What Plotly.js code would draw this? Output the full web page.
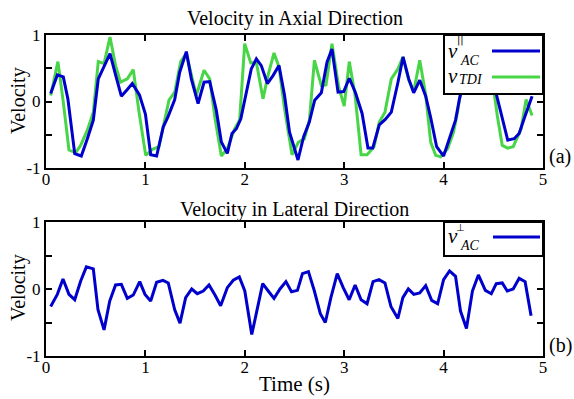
<!DOCTYPE html>
<html>
<head>
<meta charset="utf-8">
<script src="https://cdn.plot.ly/plotly-3.0.1.min.js"></script>
<style>html,body{margin:0;padding:0;background:#fff;}#chart{width:574px;height:399px;}</style>
</head>
<body>
<div id="chart"></div>
<script>
// ---- Data ----
const timeAxialAC = [0.047,0.114,0.174,0.22,0.289,0.355,0.416,0.476,0.526,0.584,0.644,0.70,0.758,0.818,0.868,0.94,1.0,1.053,1.113,1.18,1.227,1.295,1.345,1.412,1.462,1.53,1.59,1.647,1.713,1.764,1.824,1.871,1.915,1.96,2.015,2.065,2.116,2.166,2.227,2.284,2.344,2.40,2.45,2.535,2.592,2.649,2.703,2.77,2.827,2.877,2.938,2.995,3.051,3.112,3.18,3.239,3.287,3.353,3.413,3.474,3.541,3.592,3.649,3.699,3.76,3.82,3.87,3.93,4.0,4.06,4.12,4.16,4.22,4.28,4.34,4.40,4.48,4.534,4.60,4.645,4.71,4.76,4.81,4.89];
const vAxialAC = [0.12,0.40,0.37,0.04,-0.785,-0.82,-0.56,-0.28,0.34,0.52,0.72,0.40,0.08,0.18,0.27,0.10,-0.19,-0.80,-0.82,-0.38,-0.23,0.03,0.44,0.75,0.34,-0.03,0.29,0.30,-0.13,-0.61,-0.78,-0.48,-0.41,-0.26,0.14,0.49,0.64,0.54,0.27,0.39,0.54,0.09,-0.46,-0.88,-0.53,-0.31,0.02,0.13,0.59,0.79,0.14,0.15,0.35,0.14,-0.18,-0.70,-0.70,-0.35,-0.27,-0.16,0.29,0.67,0.34,0.13,0.32,0.08,-0.24,-0.68,-0.82,-0.56,-0.28,0.04,0.40,0.70,0.80,0.55,0.40,0.09,-0.31,-0.58,-0.56,-0.48,-0.26,0.08];

const timeAxialTDI = [0.047,0.12,0.174,0.231,0.299,0.349,0.416,0.476,0.526,0.584,0.644,0.70,0.75,0.818,0.878,0.936,1.003,1.07,1.137,1.187,1.237,1.295,1.355,1.412,1.512,1.59,1.647,1.70,1.764,1.824,1.898,1.948,1.999,2.06,2.116,2.183,2.233,2.294,2.344,2.40,2.475,2.54,2.60,2.65,2.70,2.77,2.817,2.877,2.945,3.0,3.051,3.11,3.17,3.23,3.30,3.353,3.41,3.474,3.541,3.59,3.65,3.70,3.76,3.82,3.87,3.92,3.97,4.04,4.10,4.14,4.20,4.26,4.32,4.38,4.44,4.51,4.54,4.59,4.645,4.70,4.78,4.83,4.89];
const vAxialTDI = [0.09,0.60,-0.01,-0.73,-0.77,-0.66,-0.43,-0.16,0.60,0.57,0.97,0.54,0.29,0.34,0.48,-0.16,-0.81,-0.72,-0.68,-0.31,0.02,0.14,0.60,0.72,0.09,0.47,0.34,-0.25,-0.82,-0.71,-0.41,-0.28,0.87,0.58,0.59,0.04,0.39,0.73,0.52,-0.11,-0.80,-0.61,-0.56,-0.28,0.62,0.24,0.25,0.87,0.22,-0.07,0.60,0.09,-0.80,-0.80,-0.68,-0.31,-0.16,0.34,0.49,0.67,0.32,0.15,0.62,0.10,-0.61,-0.81,-0.83,-0.71,-0.46,-0.16,0.45,0.75,0.62,0.80,0.45,0.12,-0.21,-0.66,-0.70,-0.68,-0.41,0.03,-0.21];

const timeLateral = [0.047,0.114,0.171,0.231,0.289,0.349,0.406,0.476,0.523,0.584,0.641,0.70,0.758,0.818,0.878,0.943,0.996,1.053,1.113,1.177,1.23,1.295,1.348,1.405,1.466,1.522,1.582,1.64,1.70,1.757,1.824,1.884,1.945,2.0,2.07,2.126,2.18,2.236,2.294,2.354,2.414,2.47,2.53,2.58,2.64,2.70,2.76,2.81,2.866,2.93,2.99,3.05,3.11,3.17,3.23,3.29,3.35,3.41,3.47,3.54,3.59,3.645,3.70,3.76,3.82,3.88,3.94,4.0,4.06,4.12,4.17,4.23,4.29,4.35,4.42,4.48,4.53,4.59,4.64,4.70,4.76,4.82,4.88];
const vLateralAC = [-0.26,-0.08,0.15,-0.08,-0.16,0.12,0.33,0.30,-0.31,-0.61,-0.18,0.06,0.07,-0.14,-0.09,0.11,-0.08,-0.18,0.10,0.13,0.09,-0.31,-0.51,-0.13,0.0,-0.07,-0.03,0.06,-0.09,-0.25,0.02,0.13,0.18,-0.03,-0.68,-0.28,0.08,-0.03,-0.14,0.0,0.11,-0.04,-0.02,0.23,0.26,-0.03,-0.37,-0.50,-0.13,0.23,0.02,-0.16,0.06,-0.16,-0.22,0.11,0.14,0.09,-0.26,-0.44,-0.13,0.0,-0.08,-0.06,0.05,-0.17,-0.22,0.14,0.27,0.19,-0.33,-0.59,-0.03,0.21,-0.02,-0.07,0.08,0.09,-0.03,0.0,0.16,0.11,-0.40];

const xTicks = [0,1,2,3,4,5];
const xTickText = ['0','1','2','3','4','5'];
const yTicks = [-1,0,1];
const yTickText = ['-1','0','1'];

// ---- Styling ----
const BLUE = 'rgb(0,0,205)';
const GREEN = 'rgb(72,214,72)';
const FONT = 'Liberation Serif, Times New Roman, serif';

// pixel -> paper helpers (plot area 46..543 x 35..356)
const PX = x => (x - 46) / 497;
const PY = y => (356 - y) / 321;

const traces = [
  {x: timeAxialTDI, y: vAxialTDI, type: 'scatter', mode: 'lines', name: 'v_TDI',
   line: {color: GREEN, width: 3}, xaxis: 'x', yaxis: 'y'},
  {x: timeAxialAC, y: vAxialAC, type: 'scatter', mode: 'lines', name: 'v_AC par',
   line: {color: BLUE, width: 3}, xaxis: 'x', yaxis: 'y'},
  {x: timeLateral, y: vLateralAC, type: 'scatter', mode: 'lines', name: 'v_AC perp',
   line: {color: BLUE, width: 3}, xaxis: 'x2', yaxis: 'y2'}
];

const xBase = {
  range: [0, 5], tickvals: xTicks, ticktext: xTickText,
  ticks: 'inside', ticklen: 6, tickwidth: 2, tickcolor: '#000',
  showline: true, linewidth: 2, linecolor: '#000', mirror: 'allticks',
  showgrid: false, zeroline: false, ticklabelstandoff: -5,
  tickfont: {family: FONT, size: 17, color: '#000'}
};
const yBase = {
  range: [-1, 1], tickvals: yTicks, ticktext: yTickText,
  ticks: 'inside', ticklen: 6, tickwidth: 2, tickcolor: '#000',
  minor: {dtick: 0.5, tick0: 0, ticks: 'inside', ticklen: 6, tickwidth: 2, tickcolor: '#000', showgrid: false},
  showline: true, linewidth: 2, linecolor: '#000', mirror: 'allticks',
  showgrid: false, zeroline: false,
  tickfont: {family: FONT, size: 17, color: '#000'}
};

const titleFont = {family: FONT, size: 20, color: '#000'};
const legV = {family: FONT, size: 21, color: '#000'};
const legSub = {family: FONT, size: 14, color: '#000'};

function txt(text, px, py, font, extra) {
  return Object.assign({text: text, xref: 'paper', yref: 'paper', x: PX(px), y: PY(py),
    xanchor: 'left', yanchor: 'middle', showarrow: false, font: font}, extra || {});
}

const layout = {
  width: 574, height: 399,
  margin: {l: 46, r: 31, t: 35, b: 43},
  paper_bgcolor: '#fff', plot_bgcolor: '#fff',
  showlegend: false,
  font: {family: FONT, color: '#000'},
  xaxis: Object.assign({}, xBase, {domain: [0, 1], anchor: 'y'}),
  yaxis: Object.assign({}, yBase, {domain: [PY(168), 1], anchor: 'x'}),
  xaxis2: Object.assign({}, xBase, {domain: [0, 1], anchor: 'y2',
    title: {text: 'Time (s)', font: {family: FONT, size: 21, color: '#000'}, standoff: 0}}),
  yaxis2: Object.assign({}, yBase, {domain: [0, PY(222)], anchor: 'x2'}),
  shapes: [
    // legend boxes
    {type: 'rect', xref: 'paper', yref: 'paper', x0: PX(444), x1: PX(543), y0: PY(94), y1: PY(35),
     fillcolor: '#fff', line: {color: '#000', width: 2}, layer: 'above'},
    {type: 'line', xref: 'paper', yref: 'paper', x0: PX(492), x1: PX(540), y0: PY(51), y1: PY(51),
     line: {color: BLUE, width: 3}, layer: 'above'},
    {type: 'line', xref: 'paper', yref: 'paper', x0: PX(492), x1: PX(540), y0: PY(77), y1: PY(77),
     line: {color: GREEN, width: 3}, layer: 'above'},
    {type: 'rect', xref: 'paper', yref: 'paper', x0: PX(444), x1: PX(543), y0: PY(256), y1: PY(222),
     fillcolor: '#fff', line: {color: '#000', width: 2}, layer: 'above'},
    {type: 'line', xref: 'paper', yref: 'paper', x0: PX(493), x1: PX(540), y0: PY(237), y1: PY(237),
     line: {color: BLUE, width: 3}, layer: 'above'}
  ],
  annotations: [
    txt('Velocity in Axial Direction', 294.5, 18, titleFont, {xanchor: 'center'}),
    txt('Velocity in Lateral Direction', 294.5, 209, titleFont, {xanchor: 'center'}),
    txt('Velocity', 18, 101, titleFont, {xanchor: 'center', textangle: -90}),
    txt('Velocity', 18, 288, titleFont, {xanchor: 'center', textangle: -90}),
    txt('(a)', 547, 156, titleFont),
    txt('(b)', 547, 345, titleFont),
    // legend texts (top)
    txt('<i>v</i>', 446, 51, legV),
    txt('||', 460, 40, {family: 'DejaVu Sans', size: 10, color: '#000'}, {xanchor: 'center'}),
    txt('<i>AC</i>', 458, 60, legSub),
    txt('<i>v</i>', 446, 76, legV),
    txt('<i>TDI</i>', 457, 79, legSub),
    // legend texts (bottom)
    txt('<i>v</i>', 446, 236, legV),
    txt('⊥', 460, 227, {family: 'DejaVu Sans', size: 10, color: '#000'}, {xanchor: 'center'}),
    txt('<i>AC</i>', 458, 245, legSub)
  ]
};

Plotly.newPlot('chart', traces, layout, {displayModeBar: false, staticPlot: true});
</script>
</body>
</html>
